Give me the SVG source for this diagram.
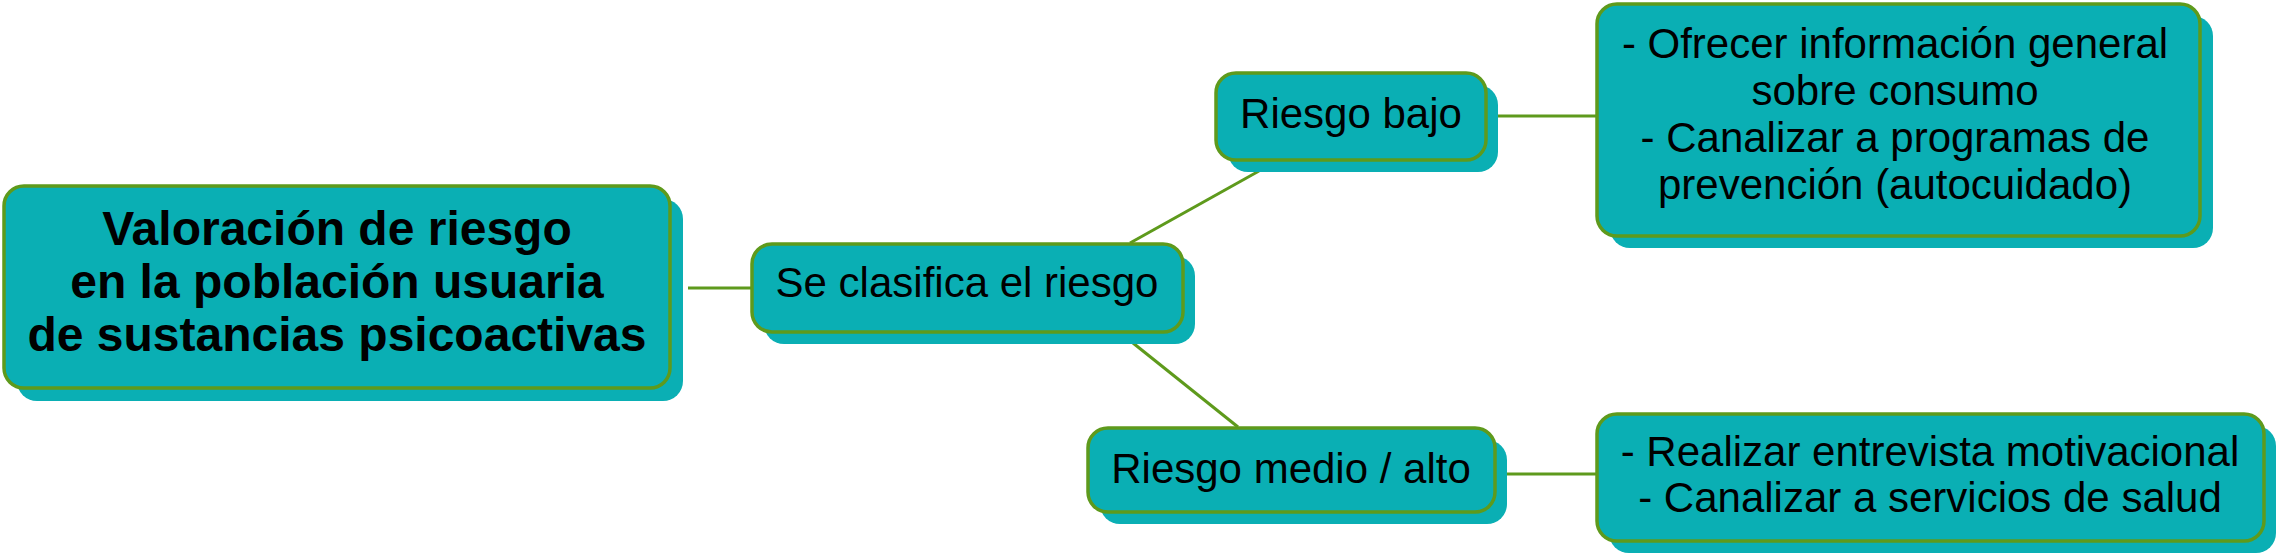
<svg xmlns="http://www.w3.org/2000/svg" width="2281" height="558" viewBox="0 0 2281 558">
<style>
.sh{fill:#0AAFB4;stroke:none}
.bx{fill:#0AAFB4;stroke:#5E9A1C;stroke-width:3.5}
.t{font-family:"Liberation Sans",Arial,sans-serif;font-size:42px;fill:#000;text-anchor:middle}
.tb{font-family:"Liberation Sans",Arial,sans-serif;font-size:48px;font-weight:bold;fill:#000;text-anchor:middle}
.c{stroke:#5E9A1C;stroke-width:3;fill:none}
</style>
<rect width="2281" height="558" fill="#fff"/>
<g id="connectors">
<line class="c" x1="688" y1="288" x2="752" y2="288"/>
<line class="c" x1="1130" y1="243" x2="1259" y2="171"/>
<line class="c" x1="1133" y1="343" x2="1238" y2="427"/>
<line class="c" x1="1497" y1="116" x2="1597" y2="116"/>
<line class="c" x1="1507" y1="474" x2="1597" y2="474"/>
</g>
<g id="n-main">
<rect class="sh" x="17" y="199" width="666" height="202" rx="20"/>
<rect class="bx" x="4" y="186" width="666" height="202" rx="20"/>
<text class="tb" x="337" y="245">Valoración de riesgo</text>
<text class="tb" x="337" y="298">en la población usuaria</text>
<text class="tb" x="337" y="351">de sustancias psicoactivas</text>
</g>
<g id="n-clasifica">
<rect class="sh" x="764" y="256" width="431" height="88" rx="20"/>
<rect class="bx" x="752" y="244" width="431" height="88" rx="20"/>
<text class="t" x="967" y="297">Se clasifica el riesgo</text>
</g>
<g id="n-bajo">
<rect class="sh" x="1228" y="85" width="270" height="87" rx="20"/>
<rect class="bx" x="1216" y="73" width="270" height="87" rx="20"/>
<text class="t" x="1351" y="128">Riesgo bajo</text>
</g>
<g id="n-bajo-acciones">
<rect class="sh" x="1610" y="16" width="603" height="232" rx="20"/>
<rect class="bx" x="1597" y="4" width="603" height="232" rx="20"/>
<text class="t" x="1895" y="58">- Ofrecer información general</text>
<text class="t" x="1895" y="105">sobre consumo</text>
<text class="t" x="1895" y="152">- Canalizar a programas de</text>
<text class="t" x="1895" y="199">prevención (autocuidado)</text>
</g>
<g id="n-medio">
<rect class="sh" x="1100" y="440" width="407" height="84" rx="20"/>
<rect class="bx" x="1088" y="428" width="407" height="84" rx="20"/>
<text class="t" x="1291" y="483">Riesgo medio / alto</text>
</g>
<g id="n-medio-acciones">
<rect class="sh" x="1609" y="426" width="667" height="127" rx="20"/>
<rect class="bx" x="1597" y="414" width="667" height="127" rx="20"/>
<text class="t" x="1930" y="466">- Realizar entrevista motivacional</text>
<text class="t" x="1930" y="512">- Canalizar a servicios de salud</text>
</g>
</svg>
